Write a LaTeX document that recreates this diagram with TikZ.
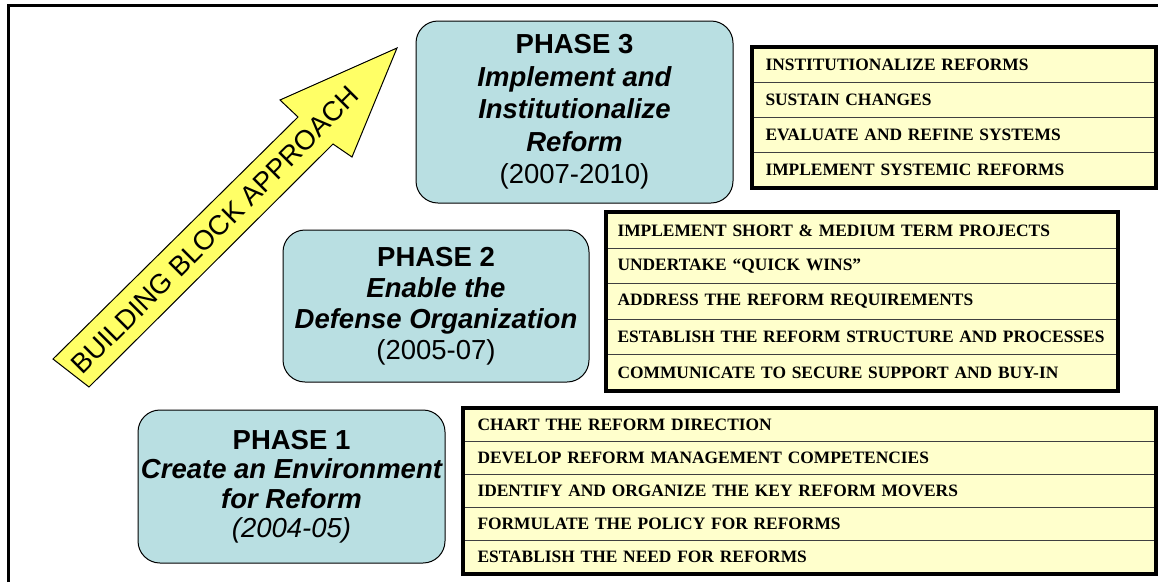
\documentclass[tikz,border=0pt]{standalone}
\usepackage{fontspec}
\setmainfont{Liberation Serif}
\newfontfamily\arial{Liberation Sans}
\usepackage{tikz}
\usetikzlibrary{positioning}
\definecolor{phasefill}{HTML}{B9DFE2}
\definecolor{taskfill}{HTML}{FFFFCC}
\definecolor{arrowfill}{HTML}{FFFF66}

\begin{document}
\begin{tikzpicture}[x=1pt,y=-1pt,
    phase/.style={draw,line width=1pt,fill=phasefill,rounded corners=22pt,align=center,inner sep=0pt,
      font=\arial\fontsize{27.5}{31}\selectfont},
    taskrow/.style={draw=black!75,line width=1pt,fill=taskfill,anchor=north west,inner xsep=14pt,inner ysep=0pt,
      align=left,font=\bfseries\fontsize{17.4}{20}\selectfont},
    taskframe/.style={line width=3.5pt}]
  \useasboundingbox (0,0) rectangle (1158,582);
  \draw[line width=3pt] (8,582) -- (8,5) -- (1158,5);
  % rising arrow
  \draw[line width=1pt,fill=arrowfill,line join=miter] (53,359) -- (298,117) -- (280,100) -- (397,48)
    -- (352,157) -- (333,144) -- (89,387) -- cycle;
  \node[rotate=45,inner sep=0pt,font=\arial\fontsize{27.5}{27.5}\selectfont] (approach) at (215,230) {BUILDING BLOCK APPROACH};
  % the three phases
  \node[phase,minimum width=317pt,minimum height=182pt,font=\arial\fontsize{27.5}{32.5}\selectfont] (phase3) at (574.5,112)
    {\bfseries PHASE 3\\ \bfseries\itshape Implement and\\ \bfseries\itshape Institutionalize\\ \bfseries\itshape Reform\\ (2007-2010)};
  \node[phase,minimum width=306pt,minimum height=152pt] (phase2) at (436,306)
    {\bfseries PHASE 2\\ \bfseries\itshape Enable the\\ \bfseries\itshape Defense Organization\\ (2005-07)};
  \node[phase,minimum width=307pt,minimum height=153pt,font=\arial\fontsize{27.5}{29.5}\selectfont] (phase1) at (291.5,486.5)
    {\bfseries PHASE 1\\ \bfseries\itshape Create an Environment\\ \bfseries\itshape for Reform\\ \itshape (2004-05)};
  % task lists
  \foreach \txt [count=\i] in {{INSTITUTIONALIZE REFORMS},{SUSTAIN CHANGES},{EVALUATE AND REFINE SYSTEMS},{IMPLEMENT SYSTEMIC REFORMS}}
    \node[taskrow,text width=377pt,inner xsep=13pt,minimum height=35pt] (tasks3-\i) at (752,{47+35*(\i-1)}) {\txt};
  \draw[taskframe] (tasks3-1.north west) rectangle (tasks3-4.south east);
  \foreach \txt [count=\i] in {{IMPLEMENT SHORT \& MEDIUM TERM PROJECTS},{UNDERTAKE “QUICK WINS”},{ADDRESS THE REFORM REQUIREMENTS},
      {ESTABLISH THE REFORM STRUCTURE AND PROCESSES},{COMMUNICATE TO SECURE SUPPORT AND BUY-IN}}
    \node[taskrow,text width=489pt,inner xsep=11pt,minimum height=35.6pt] (tasks2-\i) at (606,{212+35.6*(\i-1)}) {\txt};
  \draw[taskframe] (tasks2-1.north west) rectangle (tasks2-5.south east);
  \foreach \txt [count=\i] in {{CHART THE REFORM DIRECTION},{DEVELOP REFORM MANAGEMENT COMPETENCIES},{IDENTIFY AND ORGANIZE THE KEY REFORM MOVERS},
      {FORMULATE THE POLICY FOR REFORMS},{ESTABLISH THE NEED FOR REFORMS}}
    \node[taskrow,text width=664pt,minimum height=33pt] (tasks1-\i) at (463,{408+33*(\i-1)}) {\txt};
  \draw[taskframe] (tasks1-1.north west) rectangle (tasks1-5.south east);
\end{tikzpicture}
\end{document}
